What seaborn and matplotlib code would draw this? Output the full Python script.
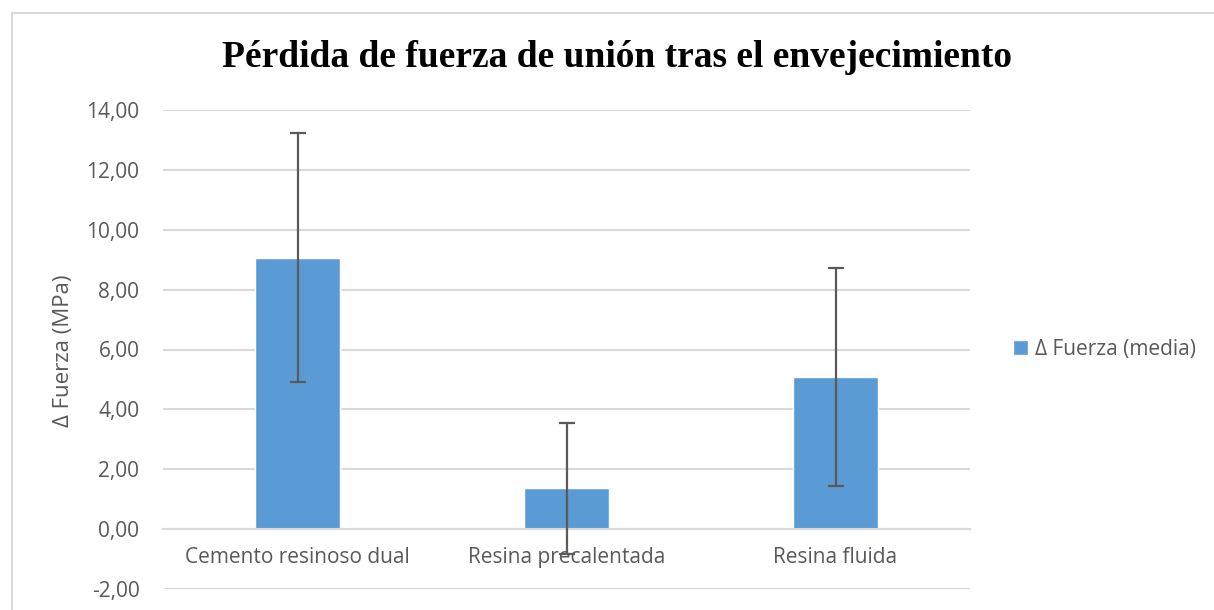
import numpy as np
import pandas as pd
import matplotlib
matplotlib.use("Agg")
import matplotlib.pyplot as plt
from matplotlib.patches import Rectangle
from matplotlib.ticker import FuncFormatter
import seaborn as sns

# data
categories = ["Cemento resinoso dual", "Resina precalentada", "Resina fluida"]
means = [9.07, 1.36, 5.07]
errors = [4.15, 2.20, 3.64]
series_name = "\u0394 Fuerza (media)"

df = pd.DataFrame({"Grupo": categories, "Delta": means, "Serie": series_name})

sns.set_style("white")
plt.rcParams["font.family"] = ["Open Sans", "DejaVu Sans"]

bar_color = "#5B9BD5"
text_gray = "#595959"
grid_gray = "#D9D9D9"

fig = plt.figure(figsize=(12.14, 6.10), dpi=100)
ax = fig.add_axes([163 / 1214, 1 - 589 / 610, (970 - 163) / 1214, (589 - 110) / 610])

sns.barplot(data=df, x="Grupo", y="Delta", hue="Serie", palette=[bar_color],
            width=0.315, errorbar=None, ax=ax, legend=True, saturation=1)
ax.errorbar(np.arange(len(categories)), means, yerr=errors, fmt="none",
            ecolor="#5A5A5A", elinewidth=1.6, capsize=6, capthick=1.6, zorder=5)

ax.set_ylim(-2, 14)
ax.set_xlim(-0.5, 2.5)
ax.set_yticks(np.arange(-2, 15, 2))
ax.yaxis.set_major_formatter(FuncFormatter(lambda v, p: f"{v:.2f}".replace(".", ",")))
ax.grid(axis="y", color=grid_gray, linewidth=1.5)
ax.set_axisbelow(True)
for s in ["top", "right", "left"]:
    ax.spines[s].set_visible(False)
ax.spines["bottom"].set_position(("data", 0))
ax.spines["bottom"].set_color(grid_gray)
ax.spines["bottom"].set_linewidth(1.5)
ax.tick_params(axis="both", length=0, labelsize=15, labelcolor=text_gray)
ax.tick_params(axis="y", pad=17)
ax.tick_params(axis="x", pad=13)
ax.set_xlabel("")
ax.set_ylabel("")

fig.text(0.052, 0.425, "\u0394 Fuerza (MPa)", rotation=90, ha="center", va="center",
         fontsize=16, color=text_gray)
fig.text(0.508, 0.905, "Pérdida de fuerza de unión tras el envejecimiento",
         ha="center", va="center", fontsize=27, fontweight="bold",
         family="Liberation Serif", color="black")

leg = ax.legend(loc="center left", bbox_to_anchor=(1.03, 0.5), frameon=False,
                fontsize=15, handlelength=0.7, handleheight=0.7, handletextpad=0.35)
for t in leg.get_texts():
    t.set_color(text_gray)

fig.add_artist(Rectangle((12 / 1214, -0.05), 1.1, 1 - 13 / 610 + 0.05,
                         transform=fig.transFigure, fill=False,
                         edgecolor=grid_gray, linewidth=1.5))

fig.savefig("out.png", dpi=100)
